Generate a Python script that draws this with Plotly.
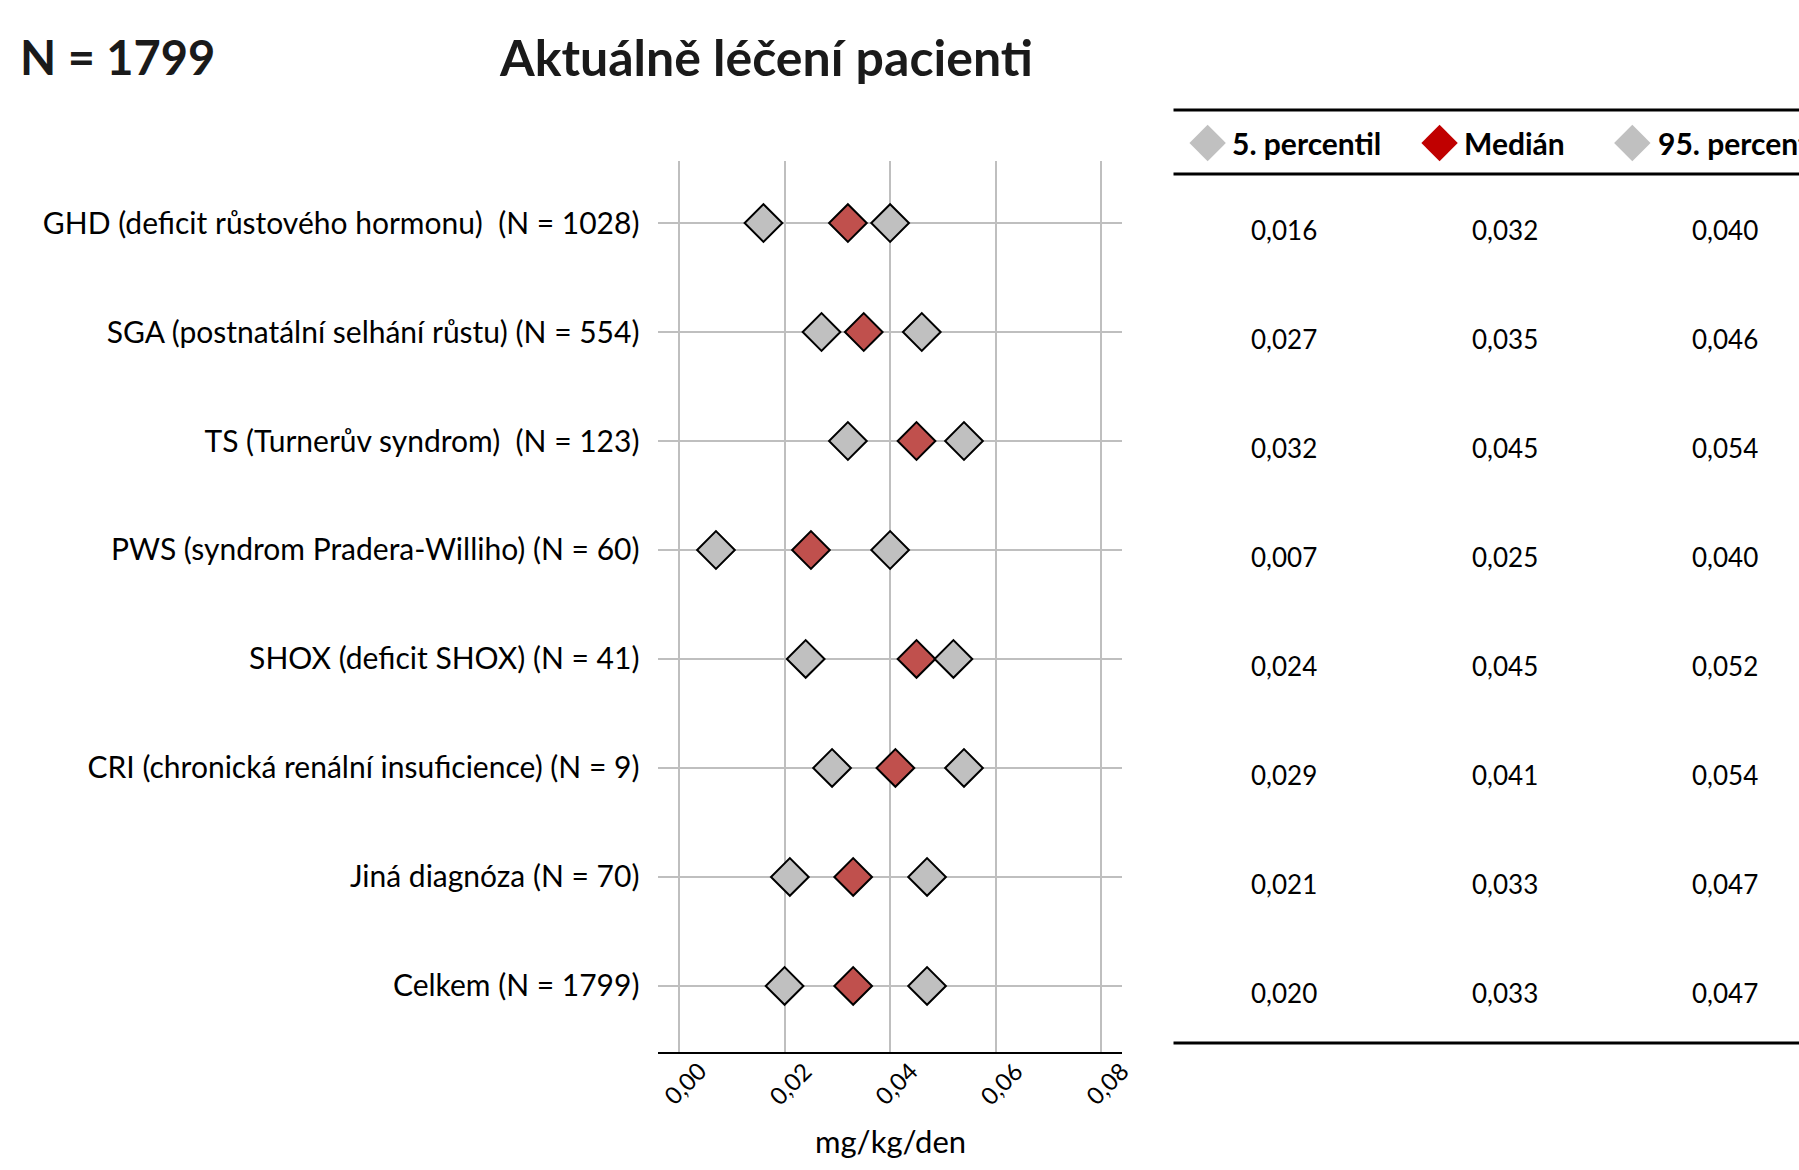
import plotly.graph_objects as go

W, H = 1799, 1170
FONT = "Lato"

categories = [
    "GHD (deficit růstového hormonu)  (N = 1028)",
    "SGA (postnatální selhání růstu) (N = 554)",
    "TS (Turnerův syndrom)  (N = 123)",
    "PWS (syndrom Pradera-Williho) (N = 60)",
    "SHOX (deficit SHOX) (N = 41)",
    "CRI (chronická renální insuficience) (N = 9)",
    "Jiná diagnóza (N = 70)",
    "Celkem (N = 1799)",
]
p5 = [0.016, 0.027, 0.032, 0.007, 0.024, 0.029, 0.021, 0.020]
median = [0.032, 0.035, 0.045, 0.025, 0.045, 0.041, 0.033, 0.033]
p95 = [0.040, 0.046, 0.054, 0.040, 0.052, 0.054, 0.047, 0.047]
series_names = ["5. percentil", "Medián", "95. percentil"]
x_ticks = [0.00, 0.02, 0.04, 0.06, 0.08]
x_title = "mg/kg/den"
title_left = "N = 1799"
title_main = "Aktuálně léčení pacienti"


def fmt(v, d=3):
    return f"{v:.{d}f}".replace(".", ",")


def px(x):
    # horizontal pixel position -> paper fraction (with small calibration)
    return (1.004 * x - 7.2) / W


def py(y):
    return 1 - y / H


GREY = "#C0C0C0"
RED = "#C0504D"
LEG_RED = "#C00000"

fig = go.Figure()
series = [p5, median, p95]
fills = [GREY, RED, GREY]
for name, vals, col in zip(series_names, series, fills):
    fig.add_trace(go.Scatter(
        x=vals, y=categories, mode="markers", name=name,
        marker=dict(symbol="diamond", size=29, color=col,
                    line=dict(color="black", width=2)),
        showlegend=False, xaxis="x", yaxis="y"))

# header legend markers on a full-page overlay axis (paper fractions)
leg_x = [px(1210), px(1441), px(1633)]
leg_cols = [GREY, LEG_RED, GREY]
fig.add_trace(go.Scatter(
    x=leg_x, y=[py(143)] * 3, mode="markers",
    marker=dict(symbol="diamond", size=28, color=leg_cols, line=dict(width=0)),
    showlegend=False, xaxis="x2", yaxis="y2", hoverinfo="skip"))

annotations = []
# header labels
leg_text_x = [1232, 1463, 1657]
for tx, nm in zip(leg_text_x, series_names):
    annotations.append(dict(x=px(tx), y=py(143), xref="paper", yref="paper",
                            text=f"<b>{nm}</b>", showarrow=False, xanchor="left",
                            yanchor="middle", font=dict(family=FONT, size=30, color="black")))
# table values
col_x = [1286, 1506, 1725]
for cx, vals in zip(col_x, series):
    for cat, v in zip(categories, vals):
        annotations.append(dict(x=px(cx), y=cat, xref="paper", yref="y",
                                text=fmt(v), showarrow=False, xanchor="center",
                                yanchor="middle", yshift=-7,
                                font=dict(family=FONT, size=26, color="black")))
# x tick labels (rotated, centred under gridlines)
for v in x_ticks:
    annotations.append(dict(x=v, y=py(1053), xref="x", yref="paper",
                            text=fmt(v, 2), showarrow=False, textangle=-45,
                            xanchor="center", yanchor="middle", xshift=5, yshift=-30,
                            font=dict(family=FONT, size=24, color="black")))
# x axis title
annotations.append(dict(x=(px(663) + px(1125)) / 2, y=py(1141), xref="paper", yref="paper",
                        text=x_title, showarrow=False, xanchor="center", yanchor="middle",
                        font=dict(family=FONT, size=31, color="black")))
# titles
annotations.append(dict(x=px(25), y=py(57), xref="paper", yref="paper",
                        text=f"<b>{title_left}</b>", showarrow=False, xanchor="left",
                        yanchor="middle", font=dict(family=FONT, size=47, color="#1a1a1a")))
annotations.append(dict(x=px(770), y=py(57), xref="paper", yref="paper",
                        text=f"<b>{title_main}</b>", showarrow=False, xanchor="center",
                        yanchor="middle", font=dict(family=FONT, size=50, color="#1a1a1a")))

shapes = []
for yy in [110, 174, 1043]:
    shapes.append(dict(type="line", xref="paper", yref="paper",
                       x0=px(1176), x1=1, y0=py(yy), y1=py(yy),
                       line=dict(color="black", width=3)))

fig.update_layout(
    width=W, height=H,
    margin=dict(l=0, r=0, t=0, b=0),
    paper_bgcolor="white", plot_bgcolor="rgba(0,0,0,0)",
    font=dict(family=FONT, color="black"),
    xaxis=dict(domain=[px(663), px(1125)], range=[-0.0039, 0.084],
               tickvals=x_ticks, showticklabels=False,
               showgrid=True, gridcolor="#BFBFBF", gridwidth=2, zeroline=False,
               showline=True, linecolor="black", linewidth=2, ticks="",
               fixedrange=True),
    yaxis=dict(domain=[py(1052), py(161)], type="category",
               categoryorder="array", categoryarray=categories,
               range=[7.606, -0.569], showgrid=True, gridcolor="#BFBFBF", gridwidth=2,
               ticks="", showline=False, zeroline=False, ticklabelstandoff=18,
               tickfont=dict(size=30, family=FONT), fixedrange=True),
    xaxis2=dict(domain=[0, 1], range=[0, 1], visible=False, anchor="y2", fixedrange=True),
    yaxis2=dict(domain=[0, 1], range=[0, 1], visible=False, anchor="x2", fixedrange=True),
    annotations=annotations, shapes=shapes,
)

post = (
    "document.documentElement.style.margin='0px';"
    "document.body.style.margin='0px';"
    "document.body.style.overflow='hidden';"
    "var gd=document.getElementById('{plot_id}');"
    "Plotly.relayout(gd,{width:window.innerWidth,height:window.innerHeight});"
)
fig.write_html("out.html", config={"displayModeBar": False}, post_script=post)
